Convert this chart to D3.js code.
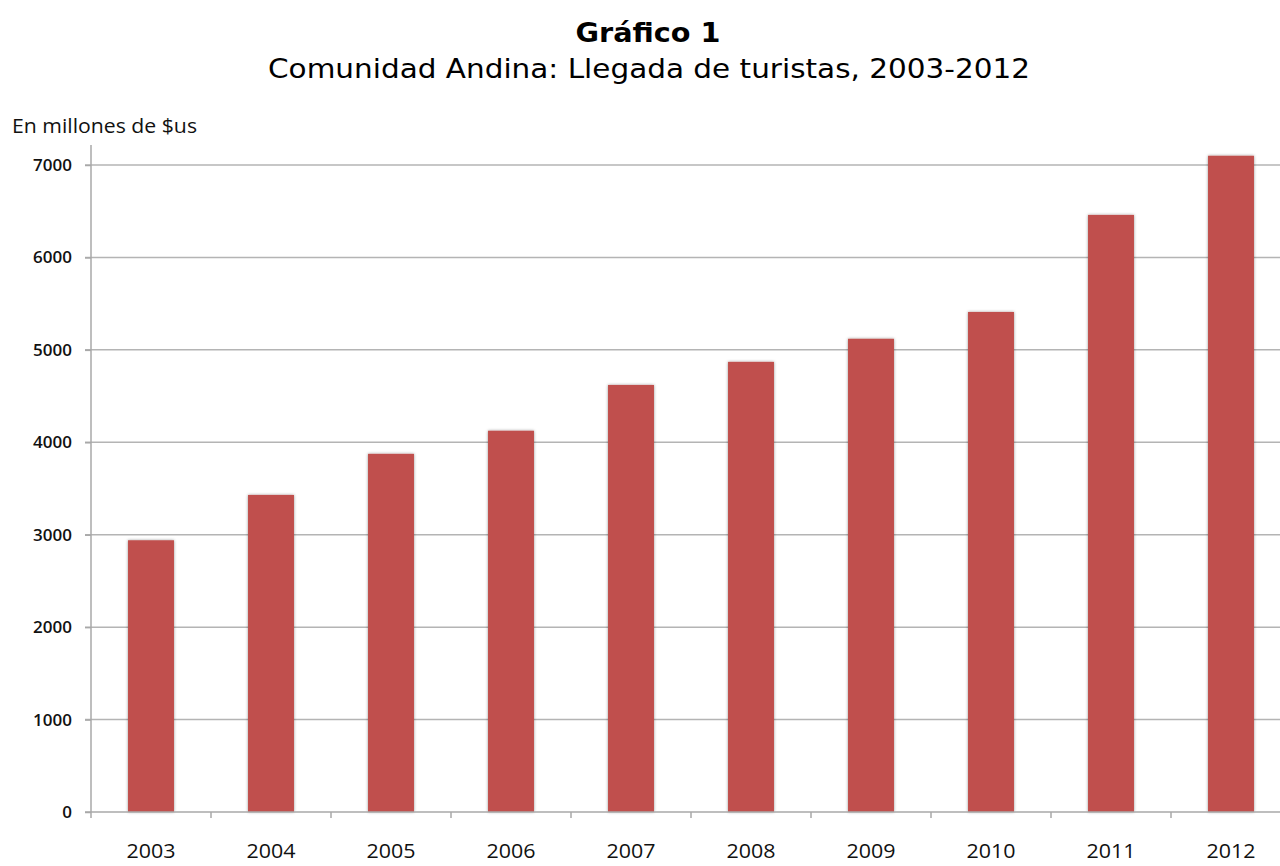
<!DOCTYPE html>
<html><head><meta charset="utf-8">
<script src="https://cdn.jsdelivr.net/npm/d3@7"></script>
<style>body{margin:0;background:#fff}svg{display:block}</style>
</head><body>
<script>
const years = ["2003","2004","2005","2006","2007","2008","2009","2010","2011","2012"];
const values = [2940, 3430, 3875, 4125, 4620, 4870, 5120, 5410, 6460, 7100];
const yTicks = [0,1000,2000,3000,4000,5000,6000,7000];

const W=1280,H=866;
const svg=d3.select("body").append("svg").attr("width",W).attr("height",H);
const defs=svg.append("defs");
const f=defs.append("filter").attr("id","sh").attr("x","-20%").attr("y","-5%").attr("width","140%").attr("height","110%");
f.append("feDropShadow").attr("dx",0).attr("dy",0).attr("stdDeviation",1.8).attr("flood-color","#000").attr("flood-opacity",0.4);

const x0=91, x1=1291, yTop=165, y0=812;
const x=d3.scaleBand().domain(years).range([x0,x1]).paddingInner(0.617).paddingOuter(0.3085);
const y=d3.scaleLinear().domain([0,7000]).range([y0,yTop]);

// title
svg.append("text").attr("x",648).attr("y",42).attr("text-anchor","middle")
 .attr("font-family","DejaVu Sans").attr("font-weight","bold").attr("font-size",27)
 .attr("textLength",145).attr("lengthAdjust","spacingAndGlyphs").text("Gráfico 1");
svg.append("text").attr("x",649).attr("y",78).attr("text-anchor","middle")
 .attr("font-family","DejaVu Sans").attr("font-size",27)
 .attr("textLength",762).attr("lengthAdjust","spacingAndGlyphs").text("Comunidad Andina: Llegada de turistas, 2003-2012");

svg.append("text").attr("x",12).attr("y",133).attr("font-family","Open Sans").attr("font-size",20).attr("fill","#111")
 .attr("textLength",185).attr("lengthAdjust","spacingAndGlyphs").text("En millones de $us");

// grid
svg.append("g").selectAll("line").data(yTicks.filter(d=>d>0)).join("line")
 .attr("x1",x0-6).attr("x2",W).attr("y1",d=>y(d)).attr("y2",d=>y(d))
 .attr("stroke","#b4b4b4").attr("stroke-width",1.5);

// bars
svg.append("g").selectAll("rect").data(values).join("rect")
 .attr("x",(d,i)=>x(years[i])).attr("width",x.bandwidth())
 .attr("y",d=>y(d)).attr("height",d=>y0-y(d))
 .attr("fill","#C0504D").attr("filter","url(#sh)");

// y axis
const ya=svg.append("g").attr("transform",`translate(${x0},0)`)
 .call(d3.axisLeft(y).tickValues(yTicks).tickSize(6).tickPadding(13).tickFormat(d3.format("d")));
ya.select(".domain").attr("stroke","#a8a8a8").attr("stroke-width",1.5).attr("d",`M-0,${y0}V145`);
ya.selectAll(".tick line").attr("stroke","#a8a8a8").attr("stroke-width",1.5);
ya.selectAll("text").attr("font-family","Open Sans").attr("font-weight",600).attr("font-size",17).attr("fill","#111");

// x axis
const xa=svg.append("g").attr("transform",`translate(0,${y0})`)
 .call(d3.axisBottom(x).tickSize(0).tickPadding(32));
xa.select(".domain").attr("stroke","#a8a8a8").attr("stroke-width",1.5).attr("d",`M${x0-6},0H${W}`);
xa.selectAll("text").attr("font-family","Open Sans").attr("font-size",20).attr("fill","#111")
 .attr("textLength",49).attr("lengthAdjust","spacingAndGlyphs");
// category boundary ticks
svg.append("g").selectAll("line").data(years).join("line")
 .attr("x1",d=>x(d)-x.step()*x.paddingOuter()).attr("x2",d=>x(d)-x.step()*x.paddingOuter())
 .attr("y1",y0).attr("y2",y0+6).attr("stroke","#a8a8a8").attr("stroke-width",1.5);
</script>
</body></html>
